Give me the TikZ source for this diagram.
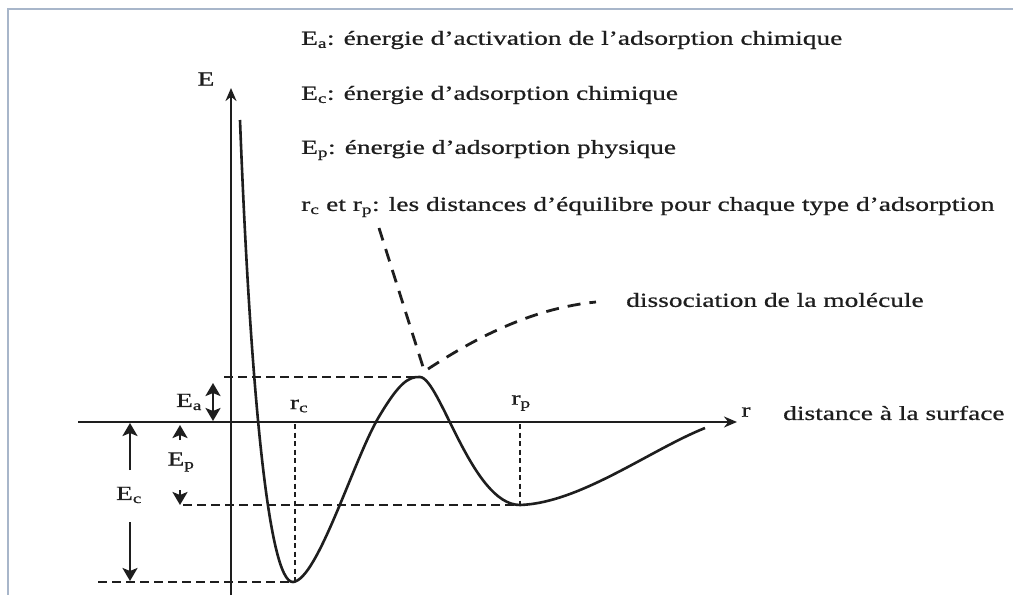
\documentclass[tikz,border=0pt]{standalone}
\usepackage{fontspec}
\setmainfont{Liberation Serif}[FakeStretch=1.37,FakeBold=0.7]
\usetikzlibrary{arrows.meta}
\definecolor{framec}{RGB}{168,182,202}
\definecolor{ink}{RGB}{30,30,30}
\begin{document}
\begin{tikzpicture}[x=1pt,y=-1pt,
  >={Stealth[length=13pt,width=15pt,inset=3pt]},
  every node/.style={inner sep=0pt, text=ink},
  txt/.style={font=\fontsize{20}{24}\selectfont, anchor=west},
  lbl/.style={font=\fontsize{20}{24}\selectfont},
  axisln/.style={draw=ink, line width=2.6pt, -{Stealth[length=13pt,width=11pt]}},
  curveln/.style={draw=ink, line width=2.6pt, line join=round},
  dashln/.style={draw=ink, line width=2.5pt, dash pattern=on 9pt off 5pt},
  dotln/.style={draw=ink, line width=2.8pt, dash pattern=on 5pt off 3.5pt},
  longdash/.style={draw=ink, line width=2.8pt, dash pattern=on 13pt off 9pt},
  meas/.style={draw=ink, line width=2.8pt},
  framel/.style={draw=framec, line width=2.6pt}]
\useasboundingbox (0,0) rectangle (1013,595);
\fill[white] (0,0) rectangle (1013,595);
% frame
\coordinate (fTR) at (1013,9);
\coordinate (fTL) at (8,9);
\coordinate (fBL) at (8,595);
\draw[framel] (fTR) -- (fTL) -- (fBL);

% legend texts
\node[txt] (t1) at (301,40) {E\textsubscript{a}: énergie d'activation de l'adsorption chimique};
\node[txt] (t2) at (301,95) {E\textsubscript{c}: énergie d'adsorption chimique};
\node[txt] (t3) at (301,150) {E\textsubscript{p}: énergie d'adsorption physique};
\node[txt] (t4) at (301,207) {r\textsubscript{c} et r\textsubscript{p}: les distances d'équilibre pour chaque type d'adsorption};
\node[txt] (t5) at (626,300) {dissociation de la molécule};
\node[txt] (t6) at (783,413) {distance à la surface};

% axes
\coordinate (xL) at (78,422);
\coordinate (xR) at (737,422);
\coordinate (yB) at (231,595);
\coordinate (yT) at (231,88);
\draw[axisln] (xL) -- (xR);
\draw[axisln] (yB) -- (yT);
\node[lbl] (Elab) at (206,79) {E};
\node[lbl] (rlab) at (746,412) {r};

% key points
\coordinate (top) at (240,120);
\coordinate (minC) at (293,582);
\coordinate (mid) at (380,415);
\coordinate (peak) at (420,377);
\coordinate (minP) at (520,505);
\coordinate (endC) at (705,428);

% potential curve
\draw[curveln] (top) .. controls (250,380) and (268,583) .. (minC)
  .. controls (318,580) and (355,455) .. (mid)
  .. controls (398,385) and (408,376) .. (peak)
  .. controls (440,378) and (472,505) .. (minP)
  .. controls (580,503) and (650,450) .. (endC);

% dashed guide lines
\coordinate (dTopL) at (224,377);
\coordinate (dEpL) at (183,505);
\coordinate (dBotL) at (98,582);
\coordinate (rcA) at (295,424);
\coordinate (rcB) at (295,582);
\coordinate (rpA) at (520,424);
\coordinate (rpB) at (520,505);
\draw[dashln] (dTopL) -- (peak);
\draw[dashln] (dEpL) -- (minP);
\draw[dashln] (dBotL) -- (minC);
\draw[dotln] (rcA) -- (rcB);
\draw[dotln] (rpA) -- (rpB);
\node[lbl] (rclab) at (299,406) {r\textsubscript{c}};
\node[lbl] (rplab) at (521,403) {r\textsubscript{p}};

% chemisorption / dissociation dashed curves
\coordinate (dsA) at (379,228);
\coordinate (dsB) at (424,370);
\coordinate (dsC) at (428,369);
\coordinate (dsD) at (596,302);
\draw[longdash] (dsA) -- (dsB);
\draw[longdash] (dsC) .. controls (480,335) and (535,308) .. (dsD);

% Ea
\coordinate (eaT) at (213,383);
\coordinate (eaB) at (213,421);
\draw[meas, <->] (eaT) -- (eaB);
\node[lbl] (ealab) at (189,402) {E\textsubscript{a}};

% Ec
\coordinate (ecT) at (130,423);
\coordinate (ecTm) at (130,470);
\coordinate (ecBm) at (130,522);
\coordinate (ecB) at (130,581);
\draw[meas, ->] (ecTm) -- (ecT);
\draw[meas, ->] (ecBm) -- (ecB);
\node[lbl] (eclab) at (129,495) {E\textsubscript{c}};

% Ep
\coordinate (epT) at (180,425);
\coordinate (epTm) at (180,440);
\coordinate (epBm) at (180,490);
\coordinate (epB) at (180,505);
\draw[meas, ->] (epTm) -- (epT);
\draw[meas, ->] (epBm) -- (epB);
\node[lbl] (eplab) at (181,462) {E\textsubscript{p}};
\end{tikzpicture}
\end{document}
